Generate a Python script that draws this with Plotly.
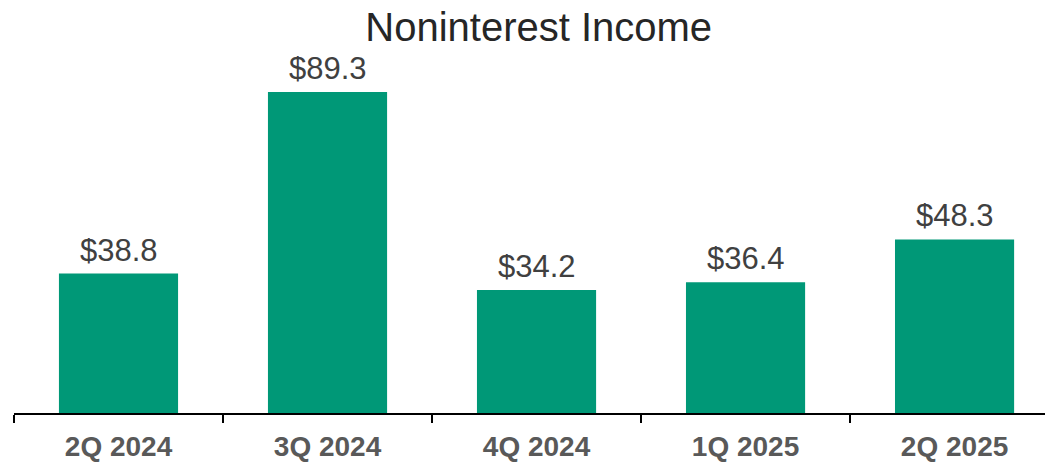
import plotly.graph_objects as go

categories = ["2Q 2024", "3Q 2024", "4Q 2024", "1Q 2025", "2Q 2025"]
values = [38.8, 89.3, 34.2, 36.4, 48.3]
labels = ["$38.8", "$89.3", "$34.2", "$36.4", "$48.3"]

fig = go.Figure(go.Bar(
    x=categories, y=values,
    marker=dict(color="#009877", line=dict(width=0)),
    width=0.57, cliponaxis=False,
))

for c, v, t in zip(categories, values, labels):
    fig.add_annotation(x=c, y=v, text=t, showarrow=False, xanchor="center", yanchor="bottom",
                       yshift=4, font=dict(family="Liberation Sans, Arial, sans-serif", size=31, color="#404040"))

fig.update_layout(
    width=1045, height=454,
    margin=dict(l=6, r=0, t=52, b=49, autoexpand=False),
    paper_bgcolor="white", plot_bgcolor="white",
    showlegend=False,
    title=dict(text="Noninterest Income", x=0.505, xanchor="center", xref="paper",
               y=0.9586, yanchor="middle", yref="container",
               font=dict(family="Liberation Sans, Arial, sans-serif", size=40, color="#262626")),
    xaxis=dict(
        type="category", range=[-0.5, 4.471], automargin=False,
        showline=True, linecolor="black", linewidth=1.5,
        ticks="outside", tickson="boundaries", ticklen=8, tickcolor="black", tickwidth=1.5,
        showgrid=False, ticklabelstandoff=8,
        tickfont=dict(family="Liberation Sans, Arial, sans-serif", size=28, color="#595959", weight="bold"),
    ),
    yaxis=dict(range=[0, 98.2], visible=False, showgrid=False, zeroline=False, automargin=False),
)

fig.write_html("out.html")
